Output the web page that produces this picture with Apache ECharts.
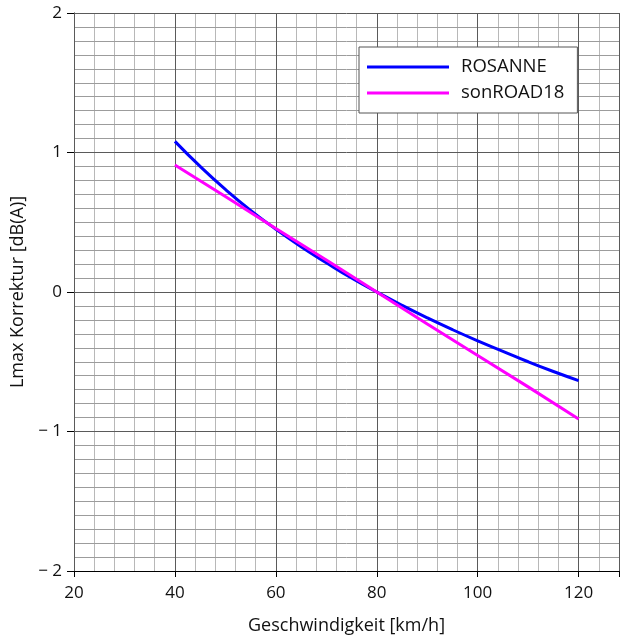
<!DOCTYPE html>
<html>
<head>
<meta charset="utf-8">
<script src="https://cdn.jsdelivr.net/npm/echarts@6/dist/echarts.min.js"></script>
<style>
html,body{margin:0;padding:0;background:#fff;overflow:hidden;}
#chart{width:622px;height:640px;}
</style>
</head>
<body>
<div id="chart"></div>
<script>
// Data
var rosanneSpeed = [40, 45, 50, 55, 60, 65, 70, 75, 80, 85, 90, 95, 100, 105, 110, 115, 120];
var rosanneValue = [1.08, 0.90, 0.735, 0.585, 0.45, 0.325, 0.21, 0.10, 0.0, -0.095, -0.185, -0.27, -0.35, -0.425, -0.50, -0.57, -0.635];
var sonroadSpeed = [40, 50, 60, 70, 80, 90, 100, 110, 120];
var sonroadValue = [0.91, 0.685, 0.455, 0.23, 0.0, -0.23, -0.455, -0.68, -0.91];
var xTickLabels = [20, 40, 60, 80, 100, 120];
var yTickLabels = [-2, -1, 0, 1, 2];
var seriesNames = ['ROSANNE', 'sonROAD18'];

function pairs(xs, ys) { return xs.map(function (x, i) { return [x, ys[i]]; }); }

var font = '"Open Sans", "Noto Sans", sans-serif';
var chart = echarts.init(document.getElementById('chart'), null, {renderer: 'canvas'});
chart.setOption({
  animation: false,
  backgroundColor: '#fff',
  grid: {left: 74, top: 13, bottom: 66, right: 0, containLabel: false},
  legend: {
    orient: 'vertical',
    left: 359, top: 47,
    data: seriesNames,
    icon: 'rect',
    itemWidth: 82, itemHeight: 3,
    itemGap: 6,
    padding: [10, 13, 10, 8],
    backgroundColor: '#fff',
    borderColor: '#555',
    borderWidth: 1,
    textStyle: {fontFamily: font, fontSize: 18.5, color: '#111', lineHeight: 20, padding: [0, 0, 0, 7]}
  },
  xAxis: [{
    type: 'value', min: 20, max: 128, interval: 20, z: 2,
    name: 'Geschwindigkeit [km/h]', nameLocation: 'middle', nameGap: 46,
    nameTextStyle: {fontFamily: font, fontSize: 18, color: '#111'},
    axisLine: {show: true, onZero: false, lineStyle: {color: '#000', width: 1}},
    axisTick: {show: true, length: 6, lineStyle: {color: '#000'}},
    axisLabel: {fontFamily: font, fontSize: 17, color: '#111', margin: 14,
      formatter: function (v) { return xTickLabels.indexOf(v) >= 0 ? String(v) : ''; }},
    splitLine: {show: true, lineStyle: {color: '#5a5a5a', width: 1}}
  }, {
    // helper axis only for the minor vertical grid lines (every 4 km/h)
    type: 'value', min: 20, max: 128, interval: 4, z: 0, position: 'bottom',
    axisLine: {show: false}, axisTick: {show: false}, axisLabel: {show: false},
    splitLine: {show: true, lineStyle: {color: '#b8b8b8', width: 1}}
  }],
  yAxis: {
    type: 'value', min: -2, max: 2, interval: 1, z: 1,
    name: 'Lmax Korrektur [dB(A)]', nameLocation: 'middle', nameGap: 34,
    nameTextStyle: {fontFamily: font, fontSize: 18, color: '#111'},
    axisLine: {show: true, onZero: false, lineStyle: {color: '#000', width: 1}},
    axisTick: {show: true, length: 7, lineStyle: {color: '#000'}},
    axisLabel: {fontFamily: font, fontSize: 17, color: '#111', margin: 12,
      formatter: function (v) {
        if (yTickLabels.indexOf(v) < 0) return '';
        return v < 0 ? '\u2212 ' + Math.abs(v) : String(v);
      }},
    splitLine: {show: true, lineStyle: {color: '#5a5a5a', width: 1}},
    minorTick: {show: false, splitNumber: 10},
    minorSplitLine: {show: true, lineStyle: {color: '#9c9c9c', width: 1}}
  },
  series: [
    {name: seriesNames[0], type: 'line', data: pairs(rosanneSpeed, rosanneValue), z: 5,
     showSymbol: false, symbol: 'none', smooth: true, color: '#0000ff',
     lineStyle: {color: '#0000ff', width: 3}},
    {name: seriesNames[1], type: 'line', data: pairs(sonroadSpeed, sonroadValue), z: 6,
     showSymbol: false, symbol: 'none', smooth: false, color: '#ff00ff',
     lineStyle: {color: '#ff00ff', width: 3}}
  ]
});
</script>
</body>
</html>
